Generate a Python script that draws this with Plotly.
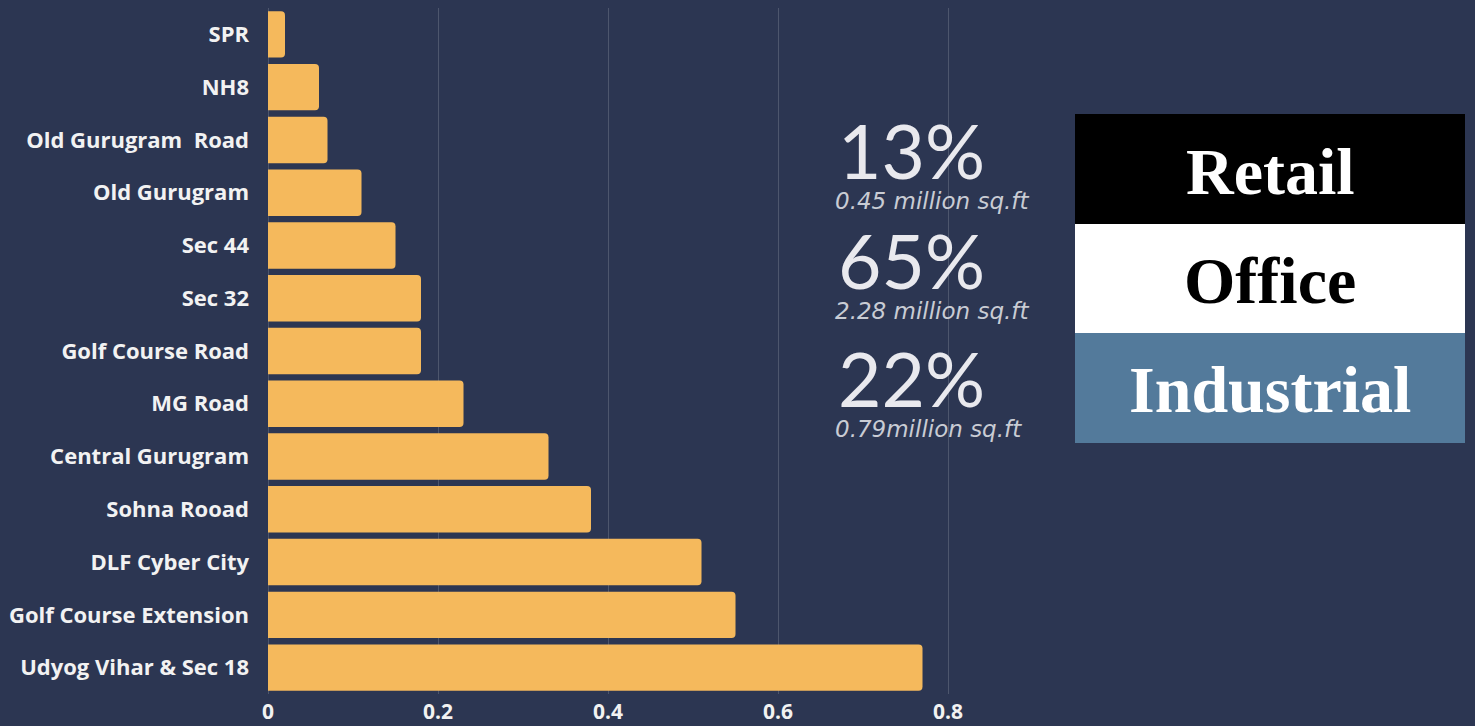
import plotly.graph_objects as go

locations = ["SPR", "NH8", "Old Gurugram  Road", "Old Gurugram", "Sec 44", "Sec 32",
             "Golf Course Road", "MG Road", "Central Gurugram", "Sohna Rooad",
             "DLF Cyber City", "Golf Course Extension", "Udyog Vihar & Sec 18"]
values = [0.02, 0.06, 0.07, 0.11, 0.15, 0.18, 0.18, 0.23, 0.33, 0.38, 0.51, 0.55, 0.77]
x_ticks = [0, 0.2, 0.4, 0.6, 0.8]

shares = ["13%", "65%", "22%"]
areas = ["0.45 million sq.ft", "2.28 million sq.ft", "0.79million sq.ft"]
segments = ["Retail", "Office", "Industrial"]

BG = "#2c3652"
BAR = "#f5b95c"

W, H = 1475, 726
L, R, T, B = 268, 1000, 8, 694

def px(p):
    return (p - L) / (R - L)

def py(q):
    return (B - q) / (B - T)

fig = go.Figure(go.Bar(
    y=locations, x=values, orientation="h",
    marker=dict(color=BAR, line=dict(width=0)),
    hoverinfo="x+y",
))

fig.update_layout(
    width=W, height=H,
    paper_bgcolor=BG, plot_bgcolor=BG,
    margin=dict(l=L, r=W - R, t=T, b=H - B),
    bargap=0.12,
    barcornerradius=4,
    showlegend=False,
    font=dict(family="Open Sans", color="#f2f2f2"),
)
fig.update_yaxes(
    autorange="reversed", categoryorder="array", categoryarray=locations,
    showgrid=False, ticks="", ticklabelstandoff=18, automargin=False,
    tickfont=dict(family="Open Sans", size=22, color="#f2f2f2", weight="bold"),
    showline=False, zeroline=False,
)
fig.update_xaxes(
    range=[0, (R - L) / 850], tickvals=x_ticks, ticktext=["0", "0.2", "0.4", "0.6", "0.8"],
    showgrid=True, gridcolor="rgba(255,255,255,0.16)", gridwidth=1,
    zeroline=True, zerolinecolor="rgba(255,255,255,0.16)", zerolinewidth=1,
    ticks="", ticklabelstandoff=3, automargin=False,
    tickfont=dict(family="Open Sans", size=21, color="#f2f2f2", weight="bold"),
)

# stats text
share_y = [150, 260, 378]
area_y = [201, 311, 429]
for s, a, sy, ay in zip(shares, areas, share_y, area_y):
    fig.add_annotation(x=px(836), y=py(sy), xref="paper", yref="paper", text=s,
                       showarrow=False, xanchor="left", yanchor="middle",
                       height=64, valign="middle",
                       font=dict(family="Lato", size=75, color="#e9e9ee"))
    fig.add_annotation(x=px(833), y=py(ay), xref="paper", yref="paper", text=a,
                       showarrow=False, xanchor="left", yanchor="middle",
                       font=dict(family="DejaVu Sans", size=23, color="#c9ccd4",
                                 style="italic", weight=200))

# segment boxes
box_fill = ["#000000", "#ffffff", "#537a9b"]
box_text = ["#ffffff", "#000000", "#ffffff"]
box_edges = [114, 224, 333, 443]
for i, seg in enumerate(segments):
    fig.add_shape(type="rect", xref="paper", yref="paper",
                  x0=px(1075), x1=px(1465), y0=py(box_edges[i + 1]), y1=py(box_edges[i]),
                  fillcolor=box_fill[i], line=dict(width=0), layer="above")
    fig.add_annotation(x=px(1270), y=py((box_edges[i] + box_edges[i + 1]) / 2 + 2),
                       xref="paper", yref="paper", text=seg, showarrow=False,
                       xanchor="center", yanchor="middle",
                       font=dict(family="Liberation Serif", size=66, color=box_text[i],
                                 weight="bold"))

fig.write_html("out.html", config={"displayModeBar": False},
               post_script="document.body.style.margin='0';")
